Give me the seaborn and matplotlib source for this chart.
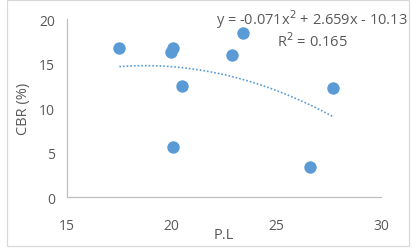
import numpy as np
import seaborn as sns
import matplotlib.pyplot as plt
from matplotlib.patches import Rectangle

# P.L vs CBR values
pl = [17.5, 19.95, 20.05, 20.5, 20.05, 22.9, 23.4, 27.7, 26.6]
cbr = [16.8, 16.3, 16.8, 12.5, 5.6, 16.0, 18.4, 12.2, 3.4]

# trendline coefficients shown on the chart
coef = [-0.071, 2.659, -10.13]
r2 = 0.165

sns.set_style('white')
plt.rcParams['font.family'] = ['Open Sans', 'DejaVu Sans']

grey = '#595959'
line_col = '#BFBFBF'
blue = '#5B9BD5'

fig = plt.figure(figsize=(4.12, 2.51), dpi=100)
ax = fig.add_axes([0.1626, 0.211, 0.762, 0.709])

sns.scatterplot(x=pl, y=cbr, ax=ax, color=blue, s=80, edgecolor=blue, linewidth=0, zorder=3)

xs = np.linspace(min(pl), max(pl), 100)
ax.plot(xs, np.polyval(coef, xs), color=blue, linestyle=(0, (1, 1.2)), linewidth=1.2)

ax.set_xlim(15, 30)
ax.set_ylim(0, 20)
ax.set_xticks([15, 20, 25, 30])
ax.set_yticks([0, 5, 10, 15, 20])

for s in ['top', 'right']:
    ax.spines[s].set_visible(False)
for s in ['left', 'bottom']:
    ax.spines[s].set_color(line_col)
    ax.spines[s].set_linewidth(0.9)

ax.tick_params(axis='both', direction='out', length=5, width=0.9, color=line_col,
               labelcolor=grey, labelsize=10)
ax.tick_params(axis='x', pad=10)
ax.set_xlabel('P.L', color=grey, fontsize=10.5, labelpad=-4)
ax.set_ylabel('CBR (%)', color=grey, fontsize=10.5, labelpad=6)

fig.text(312 / 412, 1 - 8 / 251,
         f'y = {coef[0]}x$^2$ + {coef[1]}x - {abs(coef[2])}\nR$^2$ = {r2:.3f}',
         ha='center', va='top', color=grey, fontsize=10.5, linespacing=1.1)

fig.patches.append(Rectangle((7 / 412, 1 - 247 / 251), 402 / 412, 246 / 251,
                             transform=fig.transFigure, fill=False,
                             edgecolor='#D9D9D9', linewidth=0.9))

fig.savefig('out.png', dpi=100)
